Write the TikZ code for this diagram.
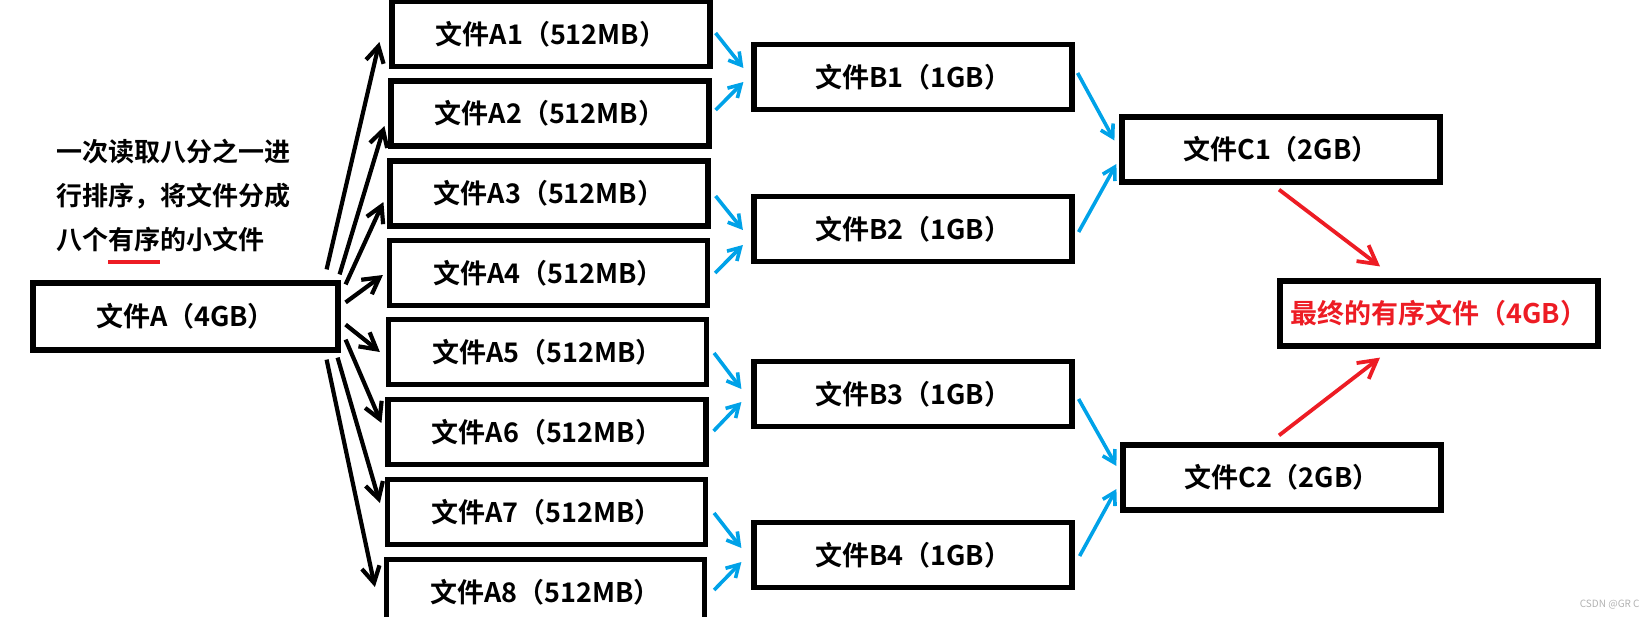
\documentclass[tikz,border=0pt]{standalone}
\usepackage{fontspec}
\usepackage{xcolor}
\usetikzlibrary{arrows.meta}
\setmainfont{Noto Sans CJK SC}[BoldFont={Noto Sans CJK SC Bold}]
\definecolor{paintblue}{RGB}{0,162,232}
\definecolor{paintred}{RGB}{237,28,36}
\newcommand\redul[1]{\setbox0\hbox{#1}\rlap{\color{paintred}\rule[-7pt]{\wd0}{1.7pt}}\box0}

\begin{document}
\begin{tikzpicture}[x=0.5pt, y=-0.5pt,
    filebox/.style={draw, line width=2.6pt, minimum width=159pt, minimum height=32.5pt, inner sep=0pt, font=\bfseries\fontsize{13.5}{15}\selectfont},
    blk/.style={line width=2.1pt, -{Straight Barb[length=8pt,width=9pt]}},
    blu/.style={paintblue, line width=1.8pt, -{Straight Barb[length=6pt,width=7pt]}},
    rd/.style={paintred, line width=1.9pt, -{Straight Barb[length=9pt,width=10pt]}}]
    \useasboundingbox (0,0) rectangle (1644,616);

    % Big input file
    \node[filebox, minimum width=152.5pt, minimum height=33.5pt] (A) at (185.5,316.5) {文件A（4GB）};

    % Note
    \node[anchor=north west, inner sep=0pt, align=left, font=\bfseries\fontsize{13}{22}\selectfont] (note) at (56,139)
        {一次读取八分之一进\\行排序，将文件分成\\八个\redul{有序}的小文件};

    % Sorted parts
    \foreach \i/\x/\y in {1/551/34, 2/550/113.5, 3/549/193.5, 4/548.5/273,
                          5/547.5/352, 6/547/432, 7/546.5/512, 8/545.5/592}
        \node[filebox] (A\i) at (\x,\y) {文件A\i（512MB）};

    % First merge
    \foreach \i/\y in {1/77, 2/229, 3/394, 4/555}
        \node[filebox] (B\i) at (913,\y) {文件B\i（1GB）};

    % Second merge
    \node[filebox] (C1) at (1281,149.5) {文件C1（2GB）};
    \node[filebox] (C2) at (1282,477.5) {文件C2（2GB）};

    % Result
    \node[filebox, text=paintred] (R) at (1439,313.5) {最终的有序文件（4GB）};

    % Split arrows
    \foreach \i/\sx/\sy/\ex/\ey in {1/-14/-11/-10/8, 2/-1/-6/-4/12.5, 3/5/4/-4/8.5, 4/5/22/-4/2}
        \draw[blk] ([shift={(\sx,\sy)}]A.north east) -- ([shift={(\ex,\ey)}]A\i.west);
    \foreach \i/\sx/\sy/\ex/\ey in {5/5/-28/-6/0, 6/5/-13/-4/-9, 7/-3/5/-5/-9, 8/-14/7/-9/-5}
        \draw[blk] ([shift={(\sx,\sy)}]A.south east) -- ([shift={(\ex,\ey)}]A\i.west);

    % Merge arrows
    \foreach \a/\b/\sx/\sy/\ex/\ey in {1/1/3/-1/-8/-9, 2/1/4/-3.5/-8/5, 3/2/5/2.5/-8.5/1, 4/2/5/0/-8.5/16,
                                       5/3/5/1/-10/-5, 6/3/5/-1/-10/8, 7/4/6/1/-10/-7, 8/4/7/-2/-10/7}
        \draw[blu] ([shift={(\sx,\sy)}]A\a.east) -- ([shift={(\ex,\ey)}]B\b.west);
    \foreach \a/\b/\sx/\sy/\ex/\ey in {1/1/3/-4/-5/-9, 2/1/4/3/-3/14.5, 3/2/4/5/-4/-11.5, 4/2/5/1/-4/11.5}
        \draw[blu] ([shift={(\sx,\sy)}]B\a.east) -- ([shift={(\ex,\ey)}]C\b.west);

    % Final merge
    \draw[rd] ([shift={(-2,5)}]C1.south) -- ([shift={(-59,-12)}]R.north);
    \draw[rd] ([shift={(-3,-7)}]C2.north) -- ([shift={(-59,9)}]R.south);

    % Watermark
    \node[anchor=south east, inner sep=0pt, text=gray!60, font=\fontsize{5}{6}\selectfont] (wm) at (1640,610) {CSDN @GR C};
\end{tikzpicture}
\end{document}
